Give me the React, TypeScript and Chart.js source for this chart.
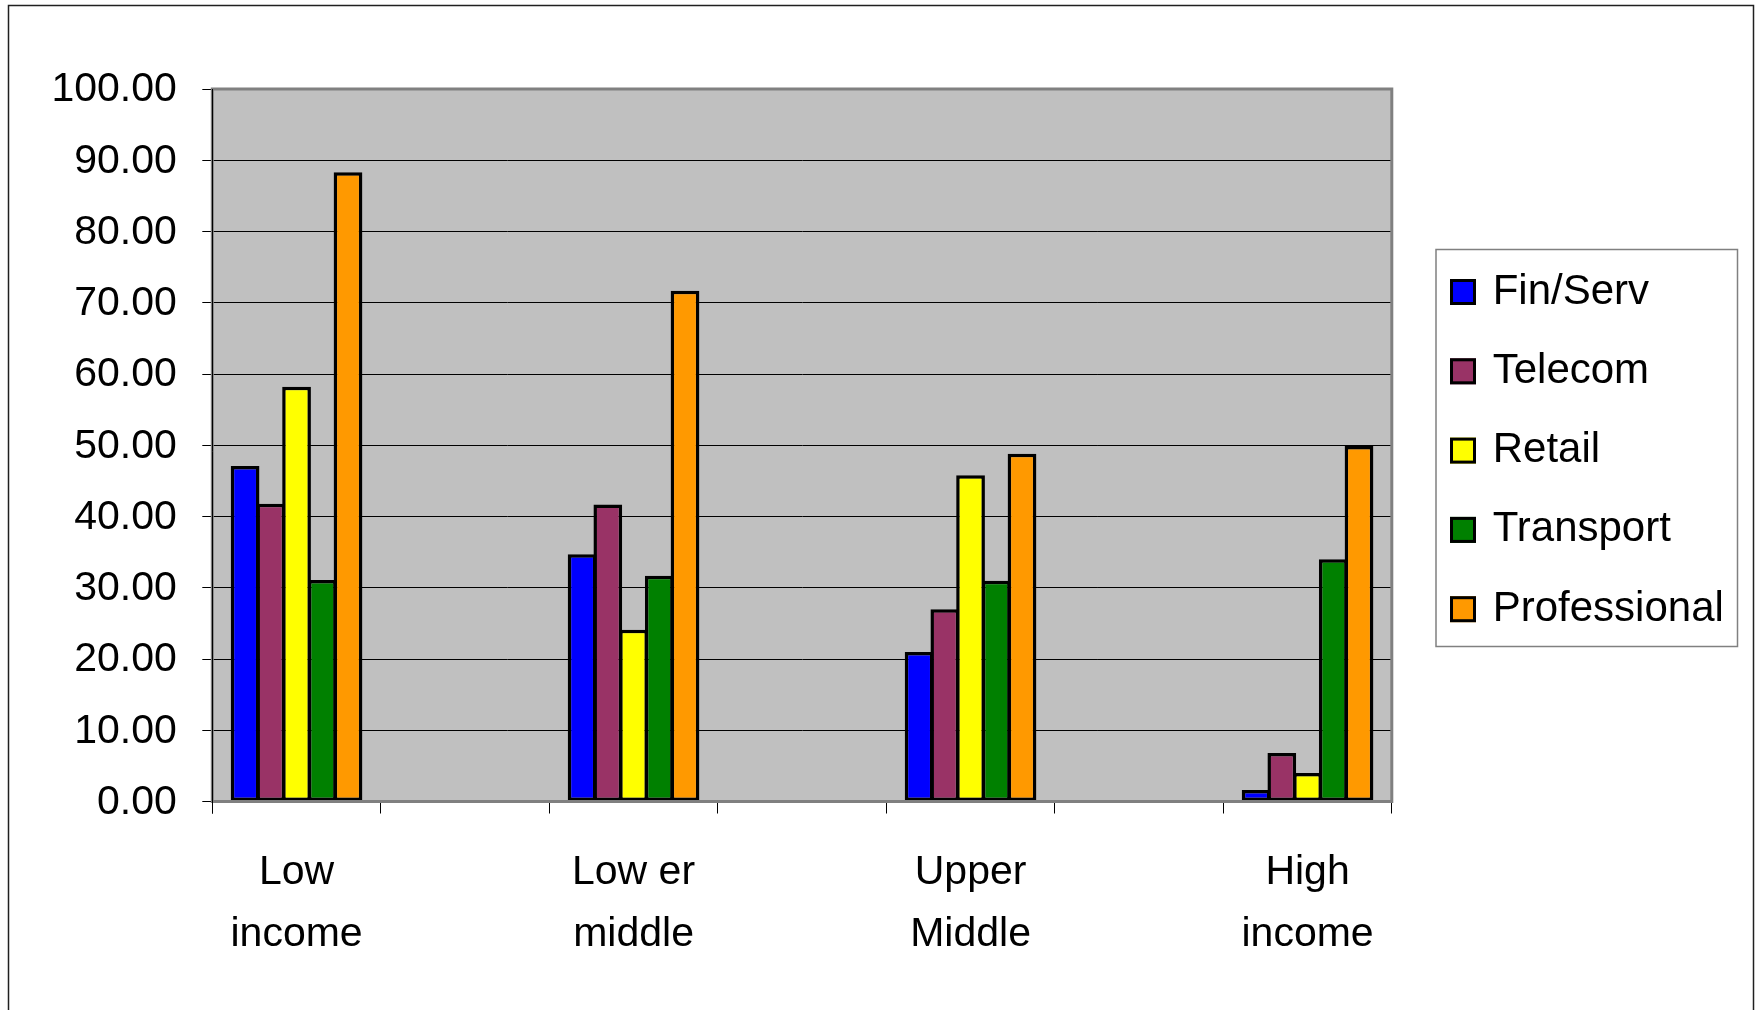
import React, { useEffect, useRef } from 'react';
import { Chart, registerables } from 'chart.js';

Chart.register(...registerables);

const categories: (string | string[])[] = [
  ['Low', 'income'],
  '',
  ['Low er', 'middle'],
  '',
  ['Upper', 'Middle'],
  '',
  ['High', 'income'],
];

const seriesNames = ['Fin/Serv', 'Telecom', 'Retail', 'Transport', 'Professional'];
const seriesColors = ['#0000FF', '#993366', '#FFFF00', '#008000', '#FF9900'];

const finServ = [47.1, null, 34.7, null, 21.0, null, 1.6];
const telecom = [41.8, null, 41.7, null, 27.0, null, 6.8];
const retail = [58.2, null, 24.1, null, 45.8, null, 4.0];
const transport = [31.1, null, 31.7, null, 31.0, null, 34.0];
const professional = [88.3, null, 71.7, null, 48.8, null, 49.9];

const yTickValues = [0, 10, 20, 30, 40, 50, 60, 70, 80, 90, 100];

const FONT = '"Liberation Sans", Arial, Helvetica, sans-serif';

export default function App() {
  const ref = useRef<HTMLCanvasElement | null>(null);

  useEffect(() => {
    document.body.style.margin = '0';
    const canvas = ref.current;
    if (!canvas) return;

    const W = 1760;
    const H = 1010;
    const plotLeft = 212.3;
    const plotRight = 1391.8;
    const plotTop = 89;
    const plotBottom = 801.5;

    const plotBg = {
      id: 'plotBg',
      beforeDraw(chart: any) {
        const { ctx, chartArea: a } = chart;
        ctx.save();
        ctx.fillStyle = '#FFFFFF';
        ctx.fillRect(0, 0, W, H);
        ctx.fillStyle = '#C0C0C0';
        ctx.fillRect(a.left, a.top, a.right - a.left, a.bottom - a.top);
        ctx.restore();
      },
    };

    const plotFrame = {
      id: 'plotFrame',
      afterDatasetsDraw(chart: any) {
        const { ctx, chartArea: a } = chart;
        ctx.save();
        ctx.strokeStyle = '#808080';
        ctx.lineWidth = 3;
        ctx.strokeRect(a.left, a.top, a.right - a.left, a.bottom - a.top);
        ctx.strokeStyle = '#000000';
        ctx.lineWidth = 1;
        ctx.beginPath();
        ctx.moveTo(Math.round(a.left) + 0.5, a.top);
        ctx.lineTo(Math.round(a.left) + 0.5, a.bottom + 12);
        ctx.stroke();
        ctx.restore();
      },
    };

    const boxLegend = {
      id: 'boxLegend',
      afterDraw(chart: any) {
        const { ctx } = chart;
        ctx.save();
        // outer chart border
        ctx.strokeStyle = '#202020';
        ctx.lineWidth = 1.5;
        ctx.beginPath();
        ctx.moveTo(8.5, H + 5);
        ctx.lineTo(8.5, 5.5);
        ctx.lineTo(1753.5, 5.5);
        ctx.lineTo(1753.5, H + 5);
        ctx.stroke();

        // legend box
        ctx.fillStyle = '#FFFFFF';
        ctx.fillRect(1436, 249, 302, 398);
        ctx.strokeStyle = '#808080';
        ctx.lineWidth = 1.5;
        ctx.strokeRect(1436, 249.5, 301.5, 397);

        ctx.font = `42px ${FONT}`;
        ctx.textBaseline = 'middle';
        ctx.textAlign = 'left';
        chart.data.datasets.forEach((ds: any, i: number) => {
          const cy = 292 + i * 79.3;
          ctx.fillStyle = ds.backgroundColor;
          ctx.fillRect(1450, cy - 13, 26, 26);
          ctx.strokeStyle = '#000000';
          ctx.lineWidth = 3;
          ctx.strokeRect(1451.5, cy - 11.5, 23, 23);
          ctx.fillStyle = '#000000';
          ctx.fillText(ds.label, 1492.7, cy);
        });
        ctx.restore();
      },
    };

    const seriesValues = [finServ, telecom, retail, transport, professional];

    const chart = new Chart(canvas, {
      type: 'bar',
      data: {
        labels: categories,
        datasets: seriesValues.map((vals, i) => ({
          label: seriesNames[i],
          data: vals,
          backgroundColor: seriesColors[i],
          borderColor: '#000000',
          borderWidth: 3.5,
          borderSkipped: false,
          categoryPercentage: 0.7635,
          barPercentage: 1.117,
        })),
      },
      options: {
        responsive: false,
        animation: false,
        devicePixelRatio: 1,
        layout: {
          padding: { top: plotTop, right: W - plotRight, left: 0, bottom: 0 },
        },
        plugins: {
          legend: { display: false },
          title: { display: false },
          tooltip: { enabled: false },
        },
        scales: {
          x: {
            type: 'category',
            offset: true,
            grid: {
              offset: true,
              drawOnChartArea: false,
              drawTicks: true,
              tickLength: 12,
              color: '#000000',
              lineWidth: 1,
            },
            border: { display: true, color: '#808080', width: 2 },
            ticks: {
              font: { family: FONT, size: 41, lineHeight: '62px' as any },
              color: '#000000',
              padding: 28.5,
              maxRotation: 0,
              minRotation: 0,
              autoSkip: false,
            },
            afterFit: (s: any) => {
              s.height = H - plotBottom;
            },
          },
          y: {
            min: 0,
            max: 100,
            afterBuildTicks: (s: any) => {
              s.ticks = yTickValues.map((v) => ({ value: v }));
            },
            grid: {
              color: '#000000',
              lineWidth: 1,
              drawTicks: true,
              tickLength: 10,
            },
            border: { display: true, color: '#000000', width: 1 },
            ticks: {
              font: { family: FONT, size: 41 },
              color: '#000000',
              padding: 25.5,
              labelOffset: 1,
              callback: (v: any) => Number(v).toFixed(2),
            },
            afterFit: (s: any) => {
              s.width = plotLeft;
            },
          },
        },
      },
      plugins: [plotBg, plotFrame, boxLegend],
    });

    return () => {
      chart.destroy();
    };
  }, []);

  return (
    <div style={{ position: 'relative', width: 1760, height: 1010 }}>
      <canvas ref={ref} width={1760} height={1010} style={{ display: 'block', width: 1760, height: 1010 }} />
    </div>
  );
}
